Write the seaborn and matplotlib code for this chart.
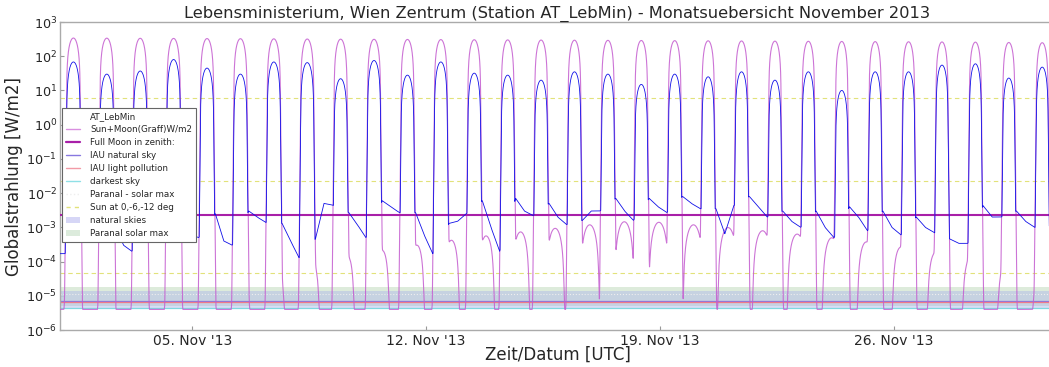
import numpy as np
import matplotlib
matplotlib.use("Agg")
import matplotlib.pyplot as plt
import matplotlib.dates as mdates
from matplotlib.lines import Line2D
from matplotlib.patches import Patch
import seaborn as sns

# ---------------------------------------------------------------- site / month
LAT_DEG = 48.2
MONTH_START = np.datetime64("2013-11-01T00:00")
N_DAYS = 30

# ---------------------------------------------------------------- sun model (per date, Nov 1..30)
sun_decl_deg = [-14.4, -14.7, -15.0, -15.3, -15.6, -15.9, -16.2, -16.5, -16.8, -17.1,
                -17.4, -17.6, -17.9, -18.2, -18.4, -18.7, -18.9, -19.1, -19.4, -19.6,
                -19.8, -20.0, -20.2, -20.4, -20.6, -20.8, -20.9, -21.1, -21.3, -21.4]
sun_noon_utc_h = [10.63, 10.63, 10.63, 10.63, 10.64, 10.64, 10.64, 10.64, 10.64, 10.65,
                  10.65, 10.65, 10.65, 10.66, 10.66, 10.66, 10.67, 10.67, 10.68, 10.68,
                  10.69, 10.69, 10.70, 10.70, 10.71, 10.71, 10.72, 10.72, 10.73, 10.73]
sun_noon_peak = [340, 337, 334, 331, 328, 325, 322, 318, 315, 312,
                 309, 306, 303, 300, 297, 294, 291, 288, 285, 282,
                 279, 276, 273, 270, 267, 264, 261, 258, 252, 248]

# irradiance with the sun at 0, -6 and -12 deg altitude
twilight_alt_deg = [0, -6, -12]
twilight_level = [6.0, 0.022, 4.6e-5]

# ---------------------------------------------------------------- moon model (per transit)
moon_transit_day = [-0.659, 0.376, 1.411, 2.446, 3.481, 4.516, 5.551, 6.586, 7.621, 8.656,
                    9.691, 10.726, 11.761, 12.796, 13.831, 14.866, 15.901, 16.936, 17.971,
                    19.006, 20.041, 21.076, 22.111, 23.146, 24.181, 25.216, 26.251, 27.286,
                    28.321, 29.356, 30.391]
moon_decl_deg = [-3.1, -7.5, -11.6, -15.0, -17.6, -19.3, -19.9, -19.2, -17.5, -14.7,
                 -11.0, -6.9, -2.4, 2.2, 6.7, 10.8, 14.3, 17.2, 19.0, 19.8,
                 19.4, 17.9, 15.3, 11.8, 7.7, 3.3, -1.3, -5.8, -10.0, -13.7, -16.7]
moon_transit_peak = [6.2e-5, 3.2e-5, 1.5e-5, 0.0, 1.2e-5, 2.0e-5, 3.4e-5, 5.6e-5, 8.9e-5,
                     1.37e-4, 2.06e-4, 2.97e-4, 4.15e-4, 5.57e-4, 7.3e-4, 9.3e-4, 1.18e-3,
                     1.45e-3, 1.40e-3, 1.18e-3, 9.8e-4, 7.9e-4, 6.3e-4, 4.9e-4, 3.7e-4,
                     2.6e-4, 1.77e-4, 1.13e-4, 6.7e-5, 3.6e-5, 1.8e-5]
starlight_floor = 4.0e-6

# ---------------------------------------------------------------- AT_LebMin measurements
meas_noon_peak = [68, 30, 37, 80, 45, 30, 68, 65, 22, 75,
                  28, 68, 32, 28, 20, 35, 30, 15, 30, 25,
                  35, 20, 35, 10, 35, 35, 55, 60, 23, 48]
# night levels after sunset of each date: evening, middle of the night, before dawn
night_evening = [1.0e-3, 1.0e-3, 1.5e-3, 1.0e-3, 2.5e-3, 3.0e-3, 1.3e-3, 4.6e-4, 2.7e-3, 6.0e-3,
                 2.7e-3, 1.3e-3, 6.0e-3, 7.0e-3, 5.0e-3, 1.6e-3, 7.0e-3, 7.0e-3, 8.0e-3, 3.5e-3,
                 8.0e-3, 3.0e-3, 3.0e-3, 4.0e-3, 3.0e-3, 2.0e-3, 4.6e-4, 4.3e-3, 3.0e-3, 1.1e-3]
night_middle = [8.0e-4, 3.0e-4, 1.0e-3, 6.0e-4, 4.0e-4, 2.0e-3, 4.0e-4, 5.0e-3, 1.2e-3, 4.0e-3,
                6.0e-4, 1.5e-3, 1.0e-3, 3.0e-3, 2.0e-3, 3.0e-3, 3.0e-3, 4.0e-3, 5.0e-3, 6.5e-4,
                4.0e-3, 1.5e-3, 1.0e-3, 2.0e-3, 1.0e-3, 1.0e-3, 3.4e-4, 2.0e-3, 1.5e-3, 1.0e-3]
night_morning = [1.0e-3, 2.0e-4, 8.0e-4, 5.0e-4, 3.0e-4, 1.4e-3, 1.3e-4, 4.5e-3, 5.0e-4, 2.7e-3,
                 1.7e-4, 2.5e-3, 2.0e-4, 2.2e-3, 1.2e-3, 3.0e-3, 1.6e-3, 2.7e-3, 3.5e-3, 4.3e-3,
                 2.0e-3, 1.0e-3, 5.0e-4, 8.0e-4, 6.0e-4, 7.0e-4, 3.4e-4, 2.0e-3, 1.0e-3, 1.0e-3]
first_dawn_level = 1.7e-4

# ---------------------------------------------------------------- reference levels
full_moon_zenith = 2.3e-3
iau_natural_sky = 7.0e-6
iau_light_pollution = 6.6e-6
darkest_sky = 4.5e-6
paranal_solar_max = 1.1e-5
natural_skies_band = (4.5e-6, 1.4e-5)
paranal_band = (5.0e-6, 1.8e-5)

# ================================================================ model evaluation
lat = np.radians(LAT_DEG)
t = np.arange(0.0, N_DAYS, 1.0 / 720.0)          # days since Nov 1 00:00 UTC

decl = np.radians(np.array(sun_decl_deg))
noon = np.array(sun_noon_utc_h) / 24.0
peak = np.array(sun_noon_peak, dtype=float)

day_idx = np.clip(np.floor(t - noon[0] + 0.5).astype(int), 0, N_DAYS - 1)
hour_angle = np.radians((t - day_idx - noon[day_idx]) * 360.0)
sin_alt = (np.sin(lat) * np.sin(decl[day_idx])
           + np.cos(lat) * np.cos(decl[day_idx]) * np.cos(hour_angle))
alt = np.degrees(np.arcsin(np.clip(sin_alt, -1, 1)))
sin_noon = np.cos(lat - decl[day_idx])

tw_alt = [-18.0] + twilight_alt_deg[::-1]
tw_log = np.log10(twilight_level[::-1])
tw_log = [tw_log[0] - 2.7] + list(tw_log)
sun_day = 6.0 + (peak[day_idx] - 6.0) * np.clip(sin_alt / sin_noon, 0, None) ** 1.1
sun_twi = 10 ** np.interp(alt, tw_alt, tw_log, left=tw_log[0] - 3)
sun_irr = np.where(alt >= 0, sun_day, sun_twi)

moon_irr = np.zeros_like(t)
for T, dec_d, P in zip(moon_transit_day, moon_decl_deg, moon_transit_peak):
    dt = t - T
    sel = np.abs(dt) < 0.55
    dec = np.radians(dec_d)
    H = np.radians(dt[sel] * 24.0 * 14.5)
    s_alt = np.sin(lat) * np.sin(dec) + np.cos(lat) * np.cos(dec) * np.cos(H)
    s_max = np.cos(lat - dec)
    a_deg = np.degrees(np.arcsin(np.clip(s_alt, 1e-6, 1)))
    airmass = 1.0 / (np.sin(np.radians(a_deg)) + 0.50572 * (a_deg + 6.07995) ** -1.6364)
    am_max = 1.0 / s_max
    val = P * (s_alt / s_max) * 10 ** (-0.4 * 0.35 * (airmass - am_max))
    moon_irr[sel] += np.where(s_alt > 0, val, 0.0)

model = sun_irr + moon_irr + starlight_floor

# measured series: daytime follows the scaled clear-sky model, nights follow the read levels
half_arc = np.degrees(np.arccos(-np.tan(lat) * np.tan(decl))) / 360.0
sunrise = np.arange(N_DAYS) + noon - half_arc
sunset = np.arange(N_DAYS) + noon + half_arc
anchor_t = [0.0, sunrise[0] - 0.05]
anchor_v = [first_dawn_level, first_dawn_level]
for i in range(N_DAYS):
    nxt_rise = sunrise[i + 1] if i + 1 < N_DAYS else sunrise[i] + 1.0
    anchor_t += [sunset[i] + 0.05, 0.5 * (sunset[i] + nxt_rise), nxt_rise - 0.05]
    anchor_v += [night_evening[i], night_middle[i], night_morning[i]]
night_curve = 10 ** np.interp(t, anchor_t, np.log10(anchor_v))
ratio = (np.array(meas_noon_peak, dtype=float) / peak)[day_idx]
measured = np.maximum(sun_irr * ratio, night_curve)

when = MONTH_START + (t * 86400).astype("timedelta64[s]")

# ================================================================ figure
sns.set_style("white")
plt.rcParams["font.family"] = ["DejaVu Sans"]

fig = plt.figure(figsize=(10.49, 3.67), dpi=100)
ax = fig.add_axes([60 / 1049, 37 / 367, 995 / 1049, 308 / 367])
ax.set_yscale("log")

ax.axhspan(*paranal_band, color="#d5e6d2", alpha=0.8, lw=0, zorder=1)
ax.axhspan(*natural_skies_band, color="#aab4ea", alpha=0.45, lw=0, zorder=1)
ax.axhline(darkest_sky, color="#7fd8e0", lw=0.9, zorder=2)
ax.axhline(iau_natural_sky, color="#8878e0", lw=0.9, zorder=2)
ax.axhline(iau_light_pollution, color="#f07a8a", lw=0.9, zorder=2)
ax.axhline(paranal_solar_max, color="#eeeeee", lw=0.8, ls=":", zorder=2)
for lvl in twilight_level:
    ax.axhline(lvl, color="#e2e27a", lw=0.8, ls=(0, (4, 3)), zorder=2)

sns.lineplot(x=when, y=model, ax=ax, color="#c45ccf", lw=0.8, alpha=0.85,
             estimator=None, sort=False, legend=False, zorder=3)
ax.axhline(full_moon_zenith, color="#a81fa8", lw=1.5, zorder=4)
sns.lineplot(x=when, y=measured, ax=ax, color="#1010e8", lw=0.6,
             estimator=None, sort=False, legend=False, zorder=5)

ax.set_ylim(1e-6, 1e3)
ax.set_xlim(MONTH_START + np.timedelta64(1, "h"),
            MONTH_START + np.timedelta64(int(29.83 * 24 * 60), "m"))
ax.xaxis.set_major_locator(mdates.DayLocator(bymonthday=[5, 12, 19, 26]))
ax.xaxis.set_major_formatter(mdates.DateFormatter("%d. %b '%y"))
ax.yaxis.set_minor_locator(matplotlib.ticker.NullLocator())
ax.tick_params(axis="x", which="major", labelsize=10, direction="in",
               length=3, color="#999999", pad=3, bottom=True)
ax.tick_params(axis="y", which="major", labelsize=9.2, direction="in",
               length=3, color="#999999", pad=2, left=True)
ax.xaxis.offsetText.set_visible(False)
ax.yaxis.offsetText.set_visible(False)
for sp in ax.spines.values():
    sp.set_color("#aaaaaa")
    sp.set_linewidth(1.0)

ax.set_title("Lebensministerium, Wien Zentrum (Station AT_LebMin) - Monatsuebersicht November 2013",
             fontsize=11.7, pad=3)
ax.set_xlabel("Zeit/Datum [UTC]", fontsize=12)
ax.set_ylabel("Globalstrahlung [W/m2]", fontsize=12)
ax.xaxis.set_label_coords(0.5, -0.05)
ax.yaxis.set_label_coords(-0.0375, 0.5)

handles = [
    Line2D([], [], color="none"),
    Line2D([], [], color="#d98fe0", lw=1.0),
    Line2D([], [], color="#a81fa8", lw=1.6),
    Line2D([], [], color="#8878e0", lw=1.0),
    Line2D([], [], color="#f29aa6", lw=1.0),
    Line2D([], [], color="#8fe0e6", lw=1.0),
    Line2D([], [], color="#eeeeee", lw=1.0, ls=":"),
    Line2D([], [], color="#e2e27a", lw=1.0, ls=(0, (3, 3))),
    Patch(facecolor="#d6d6f6", edgecolor="none"),
    Patch(facecolor="#dcebdc", edgecolor="none"),
]
labels = ["AT_LebMin", "Sun+Moon(Graff)W/m2", "Full Moon in zenith:", "IAU natural sky",
          "IAU light pollution", "darkest sky", "Paranal - solar max", "Sun at 0,-6,-12 deg",
          "natural skies", "Paranal solar max"]
leg = ax.legend(handles, labels, loc="upper left", bbox_to_anchor=(62 / 1049, 1 - 108 / 367),
                bbox_transform=fig.transFigure, fontsize=6.3, frameon=True, fancybox=False,
                framealpha=1.0, edgecolor="#666666", borderpad=0.5, labelspacing=0.45,
                handlelength=1.6, handletextpad=1.1, borderaxespad=0)
leg.get_frame().set_linewidth(0.8)
leg.set_zorder(10)

fig.savefig("out.png", dpi=100)
